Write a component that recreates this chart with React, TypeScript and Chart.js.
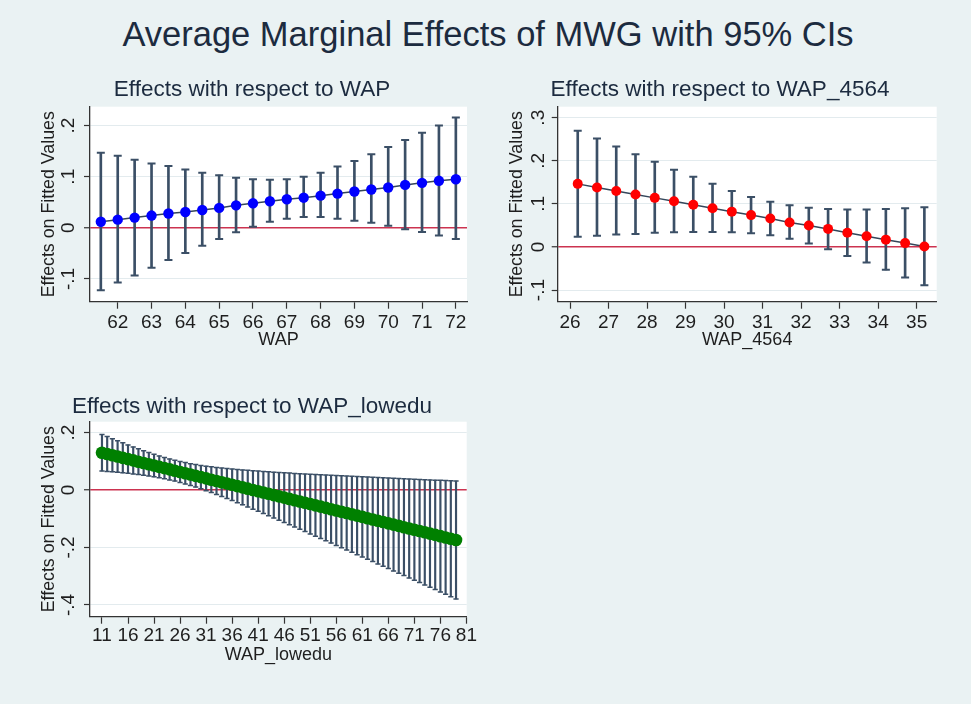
import React, { useEffect, useRef } from "react";
import { Chart, registerables } from "chart.js";

Chart.register(...registerables);

const FONT = "'Liberation Sans', Arial, Helvetica, sans-serif";
const BG = "#eaf2f3";
const CI_COLOR = "#3b4f66";
const LINE_COLOR = "#34465a";
const ZERO_COLOR = "#cc3350";
const GRID_COLOR = "#e3ebee";
const AXIS_COLOR = "#333333";
const TEXT_COLOR = "#1e1e1e";
const TITLE_COLOR = "#1c2b3f";

const MAIN_TITLE = "Average Marginal Effects of MWG with 95% CIs";
const Y_TITLE = "Effects on Fitted Values";

// ---------- Panel 1: WAP ----------
const WAP_TITLE = "Effects with respect to WAP";
const WAP_XTITLE = "WAP";
const WAP_X = [61.5, 62, 62.5, 63, 63.5, 64, 64.5, 65, 65.5, 66, 66.5, 67, 67.5, 68, 68.5, 69, 69.5, 70, 70.5, 71, 71.5, 72];
const WAP_EFFECT = [0.012, 0.016, 0.02, 0.024, 0.028, 0.031, 0.035, 0.039, 0.044, 0.048, 0.052, 0.056, 0.059, 0.063, 0.067, 0.071, 0.075, 0.079, 0.084, 0.088, 0.092, 0.095];
const WAP_UPPER = [0.147, 0.141, 0.133, 0.126, 0.121, 0.114, 0.108, 0.103, 0.098, 0.095, 0.094, 0.095, 0.1, 0.108, 0.12, 0.131, 0.144, 0.158, 0.172, 0.186, 0.2, 0.216];
const WAP_LOWER = [-0.122, -0.107, -0.093, -0.078, -0.063, -0.049, -0.035, -0.022, -0.0085, 0.002, 0.012, 0.018, 0.021, 0.021, 0.018, 0.014, 0.01, 0.004, -0.003, -0.008, -0.015, -0.022];
const WAP_XTICKS = [62, 63, 64, 65, 66, 67, 68, 69, 70, 71, 72];
const WAP_YTICKS = [-0.1, 0, 0.1, 0.2];
const WAP_YLABELS = ["-.1", "0", ".1", ".2"];

// ---------- Panel 2: WAP_4564 ----------
const W4564_TITLE = "Effects with respect to WAP_4564";
const W4564_XTITLE = "WAP_4564";
const W4564_X = [26.2, 26.7, 27.2, 27.7, 28.2, 28.7, 29.2, 29.7, 30.2, 30.7, 31.2, 31.7, 32.2, 32.7, 33.2, 33.7, 34.2, 34.7, 35.2];
const W4564_EFFECT = [0.1465, 0.138, 0.13, 0.122, 0.114, 0.106, 0.098, 0.09, 0.082, 0.074, 0.066, 0.057, 0.05, 0.042, 0.033, 0.025, 0.017, 0.009, 0.001];
const W4564_UPPER = [0.27, 0.252, 0.233, 0.215, 0.198, 0.179, 0.163, 0.147, 0.13, 0.116, 0.105, 0.097, 0.091, 0.088, 0.087, 0.087, 0.088, 0.09, 0.092];
const W4564_LOWER = [0.024, 0.026, 0.029, 0.03, 0.033, 0.034, 0.035, 0.035, 0.034, 0.032, 0.027, 0.019, 0.008, -0.005, -0.021, -0.036, -0.053, -0.071, -0.089];
const W4564_XTICKS = [26, 27, 28, 29, 30, 31, 32, 33, 34, 35];
const W4564_YTICKS = [-0.1, 0, 0.1, 0.2, 0.3];
const W4564_YLABELS = ["-.1", "0", ".1", ".2", ".3"];

// ---------- Panel 3: WAP_lowedu ----------
const LOWEDU_TITLE = "Effects with respect to WAP_lowedu";
const LOWEDU_XTITLE = "WAP_lowedu";
const LOWEDU_X = [11, 12, 13, 14, 15, 16, 17, 18, 19, 20, 21, 22, 23, 24, 25, 26, 27, 28, 29, 30, 31, 32, 33, 34, 35, 36, 37, 38, 39, 40, 41, 42, 43, 44, 45, 46, 47, 48, 49, 50, 51, 52, 53, 54, 55, 56, 57, 58, 59, 60, 61, 62, 63, 64, 65, 66, 67, 68, 69, 70, 71, 72, 73, 74, 75, 76, 77, 78, 79];
const LOWEDU_EFFECT = [
  0.13, 0.1255, 0.1211, 0.1166, 0.1121, 0.1077, 0.1032, 0.0987, 0.0942, 0.0898,
  0.0853, 0.0808, 0.0764, 0.0719, 0.0674, 0.063, 0.0585, 0.054, 0.0495, 0.0451,
  0.0406, 0.0361, 0.0317, 0.0272, 0.0227, 0.0183, 0.0138, 0.0093, 0.0048, 0.0004,
  -0.0041, -0.0086, -0.013, -0.0175, -0.022, -0.0265, -0.0309, -0.0354, -0.0399, -0.0443,
  -0.0488, -0.0533, -0.0577, -0.0622, -0.0667, -0.0712, -0.0756, -0.0801, -0.0846, -0.089,
  -0.0935, -0.098, -0.1024, -0.1069, -0.1114, -0.1159, -0.1203, -0.1248, -0.1293, -0.1337,
  -0.1382, -0.1427, -0.1471, -0.1516, -0.1561, -0.1606, -0.165, -0.1695, -0.174,
];
const LOWEDU_UPPER = [
  0.1938, 0.1862, 0.1788, 0.1715, 0.1643, 0.1572, 0.1503, 0.1435, 0.137, 0.1306,
  0.1246, 0.1189, 0.1135, 0.1084, 0.1038, 0.0995, 0.0956, 0.092, 0.0888, 0.0859,
  0.0833, 0.0809, 0.0787, 0.0767, 0.0749, 0.0731, 0.0715, 0.07, 0.0686, 0.0672,
  0.0659, 0.0647, 0.0635, 0.0623, 0.0612, 0.0601, 0.0591, 0.058, 0.057, 0.056,
  0.0551, 0.0541, 0.0532, 0.0522, 0.0513, 0.0504, 0.0495, 0.0486, 0.0477, 0.0469,
  0.046, 0.0451, 0.0443, 0.0435, 0.0426, 0.0418, 0.041, 0.0401, 0.0393, 0.0385,
  0.0377, 0.0369, 0.0361, 0.0353, 0.0345, 0.0337, 0.0329, 0.0321, 0.0313,
];
const LOWEDU_LOWER = [
  0.0663, 0.0648, 0.0633, 0.0617, 0.06, 0.0581, 0.0561, 0.0539, 0.0515, 0.0489,
  0.046, 0.0428, 0.0393, 0.0354, 0.0311, 0.0264, 0.0214, 0.016, 0.0102, 0.0042,
  -0.0021, -0.0087, -0.0154, -0.0224, -0.0294, -0.0367, -0.044, -0.0514, -0.0589, -0.0665,
  -0.0741, -0.0818, -0.0896, -0.0974, -0.1052, -0.113, -0.1209, -0.1288, -0.1367, -0.1447,
  -0.1527, -0.1606, -0.1686, -0.1766, -0.1847, -0.1927, -0.2007, -0.2088, -0.2169, -0.2249,
  -0.233, -0.2411, -0.2492, -0.2573, -0.2654, -0.2735, -0.2816, -0.2897, -0.2979, -0.306,
  -0.3141, -0.3222, -0.3304, -0.3385, -0.3467, -0.3548, -0.363, -0.3711, -0.3793,
];
const LOWEDU_XTICKS = [11, 16, 21, 26, 31, 36, 41, 46, 51, 56, 61, 66, 71, 76, 81];
const LOWEDU_YTICKS = [-0.4, -0.2, 0, 0.2];
const LOWEDU_YLABELS = ["-.4", "-.2", "0", ".2"];

type PanelProps = {
  left: number;
  top: number;
  width: number;
  height: number;
  title: string;
  titleCenter: number;
  titleTop: number;
  xTitle: string;
  xs: number[];
  effect: number[];
  upper: number[];
  lower: number[];
  xTicks: number[];
  yTicks: number[];
  yLabels: string[];
  xMin: number;
  xMax: number;
  yMin: number;
  yMax: number;
  markerColor: string;
  markerRadius: number;
  capRadius: number;
  barWidth: number;
  padTop: number;
  padRight: number;
  yAxisW: number;
  xAxisH: number;
  xTickPad: number;
  xTitlePadBottom: number;
  yTitlePadTop: number;
  yLabelX: number;
};

function Panel(p: PanelProps) {
  const ref = useRef<HTMLCanvasElement | null>(null);

  useEffect(() => {
    if (!ref.current) return;

    const plotBg = {
      id: "plotBg",
      beforeDraw(chart: any) {
        const { ctx, chartArea: a } = chart;
        ctx.save();
        ctx.fillStyle = "#ffffff";
        ctx.fillRect(a.left, a.top, a.right - a.left, a.bottom - a.top);
        ctx.restore();
      },
    };

    const yLabelsPlugin = {
      id: "yLabelsRot",
      afterDraw(chart: any) {
        const ys = chart.scales.y;
        const ctx = chart.ctx;
        ctx.save();
        ctx.font = `19px ${FONT}`;
        ctx.fillStyle = TEXT_COLOR;
        ctx.textAlign = "center";
        ctx.textBaseline = "middle";
        p.yTicks.forEach((v, i) => {
          const y = ys.getPixelForValue(v);
          ctx.save();
          ctx.translate(p.yLabelX, y);
          ctx.rotate(-Math.PI / 2);
          ctx.fillText(p.yLabels[i], 0, 0);
          ctx.restore();
        });
        ctx.restore();
      },
    };

    const chart = new Chart(ref.current, {
      type: "bar",
      data: {
        datasets: [
          {
            type: "line",
            data: p.xs.map((x, i) => ({ x, y: p.effect[i] })),
            borderColor: LINE_COLOR,
            borderWidth: 1.5,
            pointRadius: p.markerRadius,
            pointBackgroundColor: p.markerColor,
            pointBorderColor: p.markerColor,
            pointBorderWidth: 0,
            tension: 0,
            order: 0,
          } as any,
          {
            type: "line",
            data: p.xs.map((x, i) => ({ x, y: p.upper[i] })),
            showLine: false,
            pointStyle: "line",
            pointRadius: p.capRadius,
            pointBorderColor: CI_COLOR,
            pointBorderWidth: p.barWidth,
            order: 1,
          } as any,
          {
            type: "line",
            data: p.xs.map((x, i) => ({ x, y: p.lower[i] })),
            showLine: false,
            pointStyle: "line",
            pointRadius: p.capRadius,
            pointBorderColor: CI_COLOR,
            pointBorderWidth: p.barWidth,
            order: 1,
          } as any,
          {
            type: "bar",
            data: p.xs.map((x, i) => ({ x, y: [p.lower[i], p.upper[i]] })),
            backgroundColor: CI_COLOR,
            borderWidth: 0,
            barThickness: p.barWidth,
            order: 2,
          } as any,
        ],
      },
      options: {
        responsive: false,
        animation: false,
        devicePixelRatio: 1,
        events: [],
        layout: { padding: { top: p.padTop, right: p.padRight, bottom: 0, left: 0 } },
        plugins: {
          legend: { display: false },
          tooltip: { enabled: false },
          title: { display: false },
        },
        scales: {
          x: {
            type: "linear",
            min: p.xMin,
            max: p.xMax,
            offset: false,
            afterBuildTicks: (s: any) => {
              s.ticks = p.xTicks.map((v) => ({ value: v }));
            },
            afterFit: (s: any) => {
              s.height = p.xAxisH;
            },
            grid: {
              offset: false,
              drawOnChartArea: false,
              drawTicks: true,
              tickLength: 7,
              tickColor: AXIS_COLOR,
              tickWidth: 1.2,
            },
            border: { display: true, color: AXIS_COLOR, width: 1.3 },
            ticks: {
              autoSkip: false,
              maxRotation: 0,
              minRotation: 0,
              padding: p.xTickPad,
              color: TEXT_COLOR,
              font: { family: FONT, size: 19 },
              callback: (v: any) => String(v),
            },
            title: {
              display: true,
              text: p.xTitle,
              color: TEXT_COLOR,
              font: { family: FONT, size: 18 },
              padding: { top: 0, bottom: p.xTitlePadBottom },
            },
          },
          y: {
            type: "linear",
            min: p.yMin,
            max: p.yMax,
            afterBuildTicks: (s: any) => {
              s.ticks = p.yTicks.map((v) => ({ value: v }));
            },
            afterFit: (s: any) => {
              s.width = p.yAxisW;
            },
            grid: {
              color: (c: any) => (c.tick && Math.abs(c.tick.value) < 1e-9 ? ZERO_COLOR : GRID_COLOR),
              lineWidth: (c: any) => (c.tick && Math.abs(c.tick.value) < 1e-9 ? 1.5 : 1),
              drawTicks: true,
              tickLength: 6,
              tickColor: AXIS_COLOR,
              tickWidth: 1.2,
            },
            border: { display: true, color: AXIS_COLOR, width: 1.3 },
            ticks: { display: false },
            title: {
              display: true,
              text: Y_TITLE,
              color: TEXT_COLOR,
              font: { family: FONT, size: 17.8 },
              padding: { top: p.yTitlePadTop, bottom: 0 },
            },
          },
        },
      } as any,
      plugins: [plotBg, yLabelsPlugin],
    });

    return () => chart.destroy();
  }, []);

  return (
    <>
      <canvas
        ref={ref}
        width={p.width}
        height={p.height}
        style={{ position: "absolute", left: p.left, top: p.top, width: p.width, height: p.height }}
      />
      <div
        style={{
          position: "absolute",
          left: p.titleCenter - 300,
          width: 600,
          top: p.titleTop,
          textAlign: "center",
          fontFamily: FONT,
          fontSize: 22.5,
          lineHeight: "26px",
          color: TITLE_COLOR,
          whiteSpace: "nowrap",
        }}
      >
        {p.title}
      </div>
    </>
  );
}

export default function App() {
  return (
    <div
      style={{
        position: "absolute",
        left: 0,
        top: 0,
        width: 971,
        height: 704,
        background: BG,
        overflow: "hidden",
      }}
    >
      <div
        style={{
          position: "absolute",
          left: 0,
          top: 14,
          width: 976,
          textAlign: "center",
          fontFamily: FONT,
          fontSize: 34.5,
          lineHeight: "40px",
          color: TITLE_COLOR,
          whiteSpace: "nowrap",
        }}
      >
        {MAIN_TITLE}
      </div>

      <Panel
        left={30}
        top={70}
        width={452}
        height={285}
        title={WAP_TITLE}
        titleCenter={252}
        titleTop={76}
        xTitle={WAP_XTITLE}
        xs={WAP_X}
        effect={WAP_EFFECT}
        upper={WAP_UPPER}
        lower={WAP_LOWER}
        xTicks={WAP_XTICKS}
        yTicks={WAP_YTICKS}
        yLabels={WAP_YLABELS}
        xMin={61.18}
        xMax={72.33}
        yMin={-0.1445}
        yMax={0.237}
        markerColor="#0000ff"
        markerRadius={5.2}
        capRadius={4}
        barWidth={2}
        padTop={36.7}
        padRight={15}
        yAxisW={60}
        xAxisH={53.3}
        xTickPad={3}
        xTitlePadBottom={4.2}
        yTitlePadTop={8}
        yLabelX={39}
      />

      <Panel
        left={500}
        top={70}
        width={452}
        height={285}
        title={W4564_TITLE}
        titleCenter={720}
        titleTop={76}
        xTitle={W4564_XTITLE}
        xs={W4564_X}
        effect={W4564_EFFECT}
        upper={W4564_UPPER}
        lower={W4564_LOWER}
        xTicks={W4564_XTICKS}
        yTicks={W4564_YTICKS}
        yLabels={W4564_YLABELS}
        xMin={25.68}
        xMax={35.52}
        yMin={-0.127}
        yMax={0.3256}
        markerColor="#ff0000"
        markerRadius={5}
        capRadius={4}
        barWidth={2}
        padTop={36.7}
        padRight={15.3}
        yAxisW={57.7}
        xAxisH={53.3}
        xTickPad={3}
        xTitlePadBottom={4.2}
        yTitlePadTop={6.7}
        yLabelX={39}
      />

      <Panel
        left={30}
        top={385}
        width={452}
        height={285}
        title={LOWEDU_TITLE}
        titleCenter={252}
        titleTop={393}
        xTitle={LOWEDU_XTITLE}
        xs={LOWEDU_X}
        effect={LOWEDU_EFFECT}
        upper={LOWEDU_UPPER}
        lower={LOWEDU_LOWER}
        xTicks={LOWEDU_XTICKS}
        yTicks={LOWEDU_YTICKS}
        yLabels={LOWEDU_YLABELS}
        xMin={8.7}
        xMax={81.05}
        yMin={-0.441}
        yMax={0.238}
        markerColor="#008000"
        markerRadius={6.3}
        capRadius={2.6}
        barWidth={1.5}
        padTop={36.7}
        padRight={15.3}
        yAxisW={60}
        xAxisH={53.3}
        xTickPad={1}
        xTitlePadBottom={4.2}
        yTitlePadTop={8}
        yLabelX={39}
      />
    </div>
  );
}
